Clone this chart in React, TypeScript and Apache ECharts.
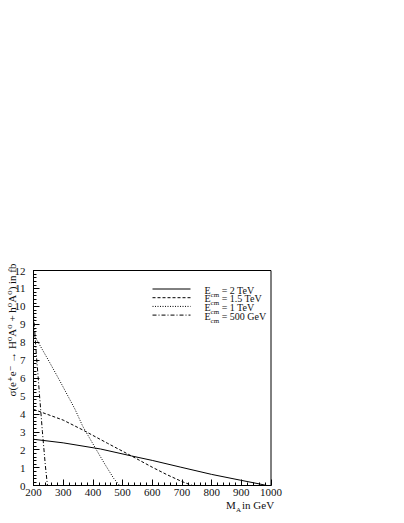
import React, { useEffect, useRef } from "react";
import * as echarts from "echarts";

// M_A in GeV and sigma in fb, for each centre-of-mass energy
const massA_2TeV = [200, 300, 425, 530, 600, 694, 800, 896, 960, 986];
const sigma_2TeV = [2.58, 2.38, 2.04, 1.65, 1.4, 1.03, 0.62, 0.3, 0.09, 0];

const massA_15TeV = [200, 300, 366, 450, 530, 600, 650, 700, 735];
const sigma_15TeV = [4.25, 3.65, 3.1, 2.35, 1.65, 1.02, 0.6, 0.22, 0];

const massA_1TeV = [200, 250, 290, 340, 366, 408, 440, 470, 490];
const sigma_1TeV = [8.45, 7.0, 5.8, 4.25, 3.3, 2.1, 1.2, 0.4, 0];

const massA_500GeV = [200, 205, 210, 215, 220, 230, 240, 247];
const sigma_500GeV = [9.6, 8.4, 7.2, 6.2, 5.1, 3.0, 1.1, 0];

const seriesNames = ["2 TeV", "1.5 TeV", "1 TeV", "500 GeV"];
const xTicks = [200, 300, 400, 500, 600, 700, 800, 900, 1000];
const yTicks = [0, 1, 2, 3, 4, 5, 6, 7, 8, 9, 10, 11, 12];

const FONT = "'Liberation Serif', 'DejaVu Serif', serif";

const pairs = (xs: number[], ys: number[]) => xs.map((x, i) => [x, ys[i]]);

export default function App() {
  const ref = useRef<HTMLDivElement>(null);
  useEffect(() => {
    if (!ref.current) return;
    const chart = echarts.init(ref.current, null, { renderer: "svg" });
    const styles: any[] = [
      { type: "solid" },
      { type: [3, 2] },
      { type: [1, 1.5] },
      { type: [4, 2, 1, 2] },
    ];
    const datasets = [
      pairs(massA_2TeV, sigma_2TeV),
      pairs(massA_15TeV, sigma_15TeV),
      pairs(massA_1TeV, sigma_1TeV),
      pairs(massA_500GeV, sigma_500GeV),
    ];
    const axisCommon = {
      axisLine: { show: true, lineStyle: { color: "#000", width: 1 } },
      axisTick: { show: true, inside: true, length: 6, lineStyle: { color: "#000" } },
      minorTick: { show: true, splitNumber: 5, length: 3, lineStyle: { color: "#000" } },
      splitLine: { show: false },
      minorSplitLine: { show: false },
    };
    chart.setOption({
      animation: false,
      backgroundColor: "#fff",
      textStyle: { fontFamily: FONT },
      grid: {
        left: 33.5,
        top: 270.5,
        right: 133,
        bottom: 37.5,
        show: true,
        borderColor: "#000",
        borderWidth: 1,
        backgroundColor: "transparent",
      },
      xAxis: {
        type: "value",
        min: xTicks[0],
        max: xTicks[xTicks.length - 1],
        interval: 100,
        ...axisCommon,
        axisLabel: {
          color: "#111",
          fontFamily: FONT,
          fontSize: 11,
          margin: 1,
          formatter: (v: number) => String(v),
        },
      },
      yAxis: {
        type: "value",
        min: yTicks[0],
        max: yTicks[yTicks.length - 1],
        interval: 1,
        ...axisCommon,
        axisLabel: { color: "#111", fontFamily: FONT, fontSize: 11, margin: 8 },
      },
      legend: {
        show: true,
        orient: "vertical",
        left: 152,
        top: 285,
        padding: 0,
        itemWidth: 38,
        itemHeight: 8,
        itemGap: -4.3,
        data: seriesNames,
        itemStyle: { opacity: 0 },
        lineStyle: { width: 1, color: "#000" },
        formatter: (name: string) => `{p|}{e|E}{s|cm}{e| = ${name}}`,
        textStyle: {
          color: "#111",
          fontFamily: FONT,
          fontSize: 10,
          lineHeight: 8,
          rich: {
            p: { width: 9, lineHeight: 8, verticalAlign: "top" },
            e: { fontSize: 10, fontFamily: FONT, color: "#111", lineHeight: 8, verticalAlign: "top" },
            s: {
              fontSize: 7,
              fontFamily: FONT,
              color: "#111",
              lineHeight: 2,
              padding: [6, 0, 0, 0],
              verticalAlign: "top",
            },
          },
        },
      },
      series: seriesNames.map((name, i) => ({
        name,
        type: "line",
        data: datasets[i],
        showSymbol: false,
        symbol: "none",
        lineStyle: { color: "#000", width: 1, ...styles[i] },
        itemStyle: { color: "#000" },
      })),
      graphic: [
        {
          type: "text",
          x: 12,
          y: 330,
          rotation: Math.PI / 2,
          style: {
            text: "σ(e⁺e⁻ → H⁰A⁰ + h⁰A⁰) in fb",
            font: `11px ${FONT}`,
            fill: "#111",
            align: "center",
            verticalAlign: "middle",
          },
        },
        {
          type: "text",
          x: 226,
          y: 505,
          style: { text: "M", font: `11px ${FONT}`, fill: "#111", verticalAlign: "middle" },
        },
        {
          type: "text",
          x: 236,
          y: 510,
          style: { text: "A", font: `7px ${FONT}`, fill: "#111", verticalAlign: "middle" },
        },
        {
          type: "text",
          x: 242,
          y: 505,
          style: { text: "in GeV", font: `11px ${FONT}`, fill: "#111", verticalAlign: "middle" },
        },
      ],
    });
    return () => chart.dispose();
  }, []);
  return (
    <div
      ref={ref}
      style={{ position: "absolute", left: 0, top: 0, width: 404, height: 523 }}
    />
  );
}
